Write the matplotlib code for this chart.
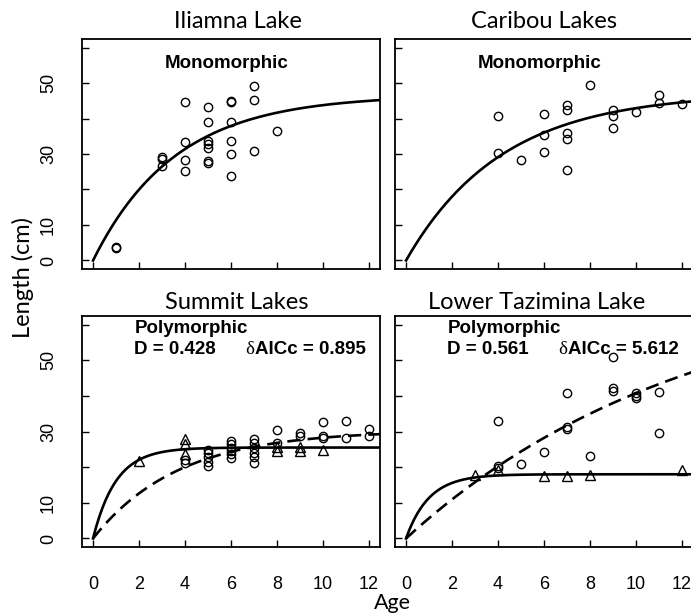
import numpy as np
import matplotlib
matplotlib.use("Agg")
import matplotlib.pyplot as plt

plt.rcParams['font.family'] = ['Liberation Sans', 'DejaVu Sans']

# Iliamna Lake (monomorphic)
iliamna_age = [1, 1, 3, 3, 3, 4, 4, 4, 4, 5, 5, 5, 5, 5, 5, 5, 6, 6, 6, 6, 6, 6, 7, 7, 7, 8]
iliamna_len = [3.5, 3.8, 28.6, 29.1, 26.5, 44.6, 33.3, 28.4, 25.3, 43.2, 38.9, 33.8, 32.8, 31.7,
               27.9, 27.5, 44.8, 44.6, 39.1, 33.6, 29.9, 23.7, 49.2, 45.1, 30.8, 36.6]

# Caribou Lakes (monomorphic)
caribou_age = [4, 4, 5, 6, 6, 6, 7, 7, 7, 7, 7, 8, 9, 9, 9, 10, 11, 11, 12]
caribou_len = [40.8, 30.4, 28.3, 41.2, 35.4, 30.7, 43.8, 42.4, 35.9, 34.2, 25.6, 49.5,
               42.4, 40.6, 37.2, 41.9, 46.6, 44.3, 44.2]

# Summit Lakes (polymorphic): circles and triangles
summit_c_age = [4, 4, 5, 5, 5, 5, 5, 6, 6, 6, 6, 6, 6, 7, 7, 7, 7, 7, 7,
                8, 8, 9, 9, 10, 10, 10, 11, 11, 12, 12]
summit_c_len = [21.9, 21.3, 24.8, 23.9, 22.8, 21.5, 20.3, 27.3, 26.4, 25.5, 24.5, 23.6, 22.7,
                27.8, 26.7, 25.5, 24.1, 22.8, 21.1, 30.3, 26.9, 29.5, 28.7, 32.8, 28.7, 28.1,
                33.0, 28.1, 30.6, 28.7]
summit_t_age = [2, 4, 4, 4, 8, 8, 9, 9, 10]
summit_t_len = [21.7, 27.8, 26.6, 23.6, 25.7, 24.5, 25.7, 24.5, 24.8]

# Lower Tazimina Lake (polymorphic)
tazimina_c_age = [4, 4, 4, 5, 6, 7, 7, 7, 8, 9, 9, 9, 10, 10, 10, 11, 11]
tazimina_c_len = [33.0, 20.3, 19.8, 21.0, 24.3, 40.8, 31.2, 30.7, 23.0, 50.9, 42.2, 41.5,
                  40.7, 39.9, 39.3, 41.0, 29.5]
tazimina_t_age = [3, 4, 6, 7, 8, 12]
tazimina_t_len = [17.7, 19.1, 17.5, 17.5, 17.9, 19.1]

# von Bertalanffy fits: (Linf, k)
iliamna_fit = (46.6, 0.28)
caribou_fit = (47.2, 0.24)
summit_fit_solid = (25.5, 1.0)
summit_fit_dash = (30.3, 0.27)
tazimina_fit_solid = (18.0, 1.0)
tazimina_fit_dash = (74.0, 0.08)

W, H = 691.0, 615.0
fig = plt.figure(figsize=(W / 100, H / 100), dpi=100)


def rect(x0, y0, x1, y1):
	return [x0 / W, 1 - y1 / H, (x1 - x0) / W, (y1 - y0) / H]


def vb(fit, t):
	linf, k = fit
	return linf * (1 - np.exp(-k * t))


def panel(r, left_labels, bottom_labels):
	ax = fig.add_axes(r)
	ax.set_xlim(-0.48, 12.48)
	ax.set_ylim(-2.4, 62.4)
	ax.set_xticks(range(0, 13, 2))
	ax.set_yticks(range(0, 61, 10))
	for s in ax.spines.values():
		s.set_linewidth(1.3)
	ax.tick_params(direction='in', length=5, width=1, labelsize=13)
	ax.tick_params(axis='x', pad=21)
	ax.tick_params(axis='y', pad=18)
	if left_labels:
		ax.set_yticklabels(['0', '10', '', '30', '', '50', ''], rotation=90, va='center')
	else:
		ax.set_yticklabels([])
	if not bottom_labels:
		ax.set_xticklabels([])
	return ax


t = np.linspace(0, 12.48, 300)
circ = dict(ls='none', marker='o', ms=6, mfc='none', mec='black', mew=1)
tri = dict(ls='none', marker='^', ms=7, mfc='none', mec='black', mew=1)
dash = dict(color='black', lw=1.9, dashes=(5, 2.7))

ax1 = panel(rect(82, 39, 380, 269), True, False)
ax1.plot(iliamna_age, iliamna_len, **circ)
ax1.plot(t, vb(iliamna_fit, t), color='black', lw=1.9)
ax1.text(5.8, 55.5, "Monomorphic", ha='center', va='center', fontsize=13.5, fontweight='bold')

ax2 = panel(rect(395, 39, 693, 269), False, False)
ax2.plot(caribou_age, caribou_len, **circ)
ax2.plot(t, vb(caribou_fit, t), color='black', lw=1.9)
ax2.text(5.8, 55.5, "Monomorphic", ha='center', va='center', fontsize=13.5, fontweight='bold')

ax3 = panel(rect(82, 316, 380, 547), True, True)
ax3.plot(summit_c_age, summit_c_len, **circ)
ax3.plot(summit_t_age, summit_t_len, **tri)
ax3.plot(t, vb(summit_fit_solid, t), color='black', lw=1.9)
ax3.plot(t, vb(summit_fit_dash, t), **dash)

ax4 = panel(rect(395, 316, 693, 547), False, True)
ax4.plot(tazimina_c_age, tazimina_c_len, **circ)
ax4.plot(tazimina_t_age, tazimina_t_len, **tri)
ax4.plot(t, vb(tazimina_fit_solid, t), color='black', lw=1.9)
ax4.plot(t, vb(tazimina_fit_dash, t), **dash)

for ax, d, aicc in [(ax3, "0.428", "0.895"), (ax4, "0.561", "5.612")]:
	ax.text(1.8, 59, "Polymorphic", ha='left', va='center', fontsize=13.5, fontweight='bold')
	ax.text(1.8, 53, "D = " + d, ha='left', va='center', fontsize=13.5, fontweight='bold')
	ax.text(6.6, 53, "\u03b4", ha='left', va='center', fontsize=13.5, family='Liberation Serif')
	ax.text(7.06, 53, "AICc = " + aicc, ha='left', va='center', fontsize=13.5, fontweight='bold')

tfont = dict(family='Lato', fontsize=17, ha='center', va='baseline')
fig.text(238 / W, 1 - 28 / H, "Iliamna Lake", **tfont)
fig.text(544 / W, 1 - 28 / H, "Caribou Lakes", **tfont)
fig.text(237 / W, 1 - 309 / H, "Summit Lakes", **tfont)
fig.text(537 / W, 1 - 309 / H, "Lower Tazimina Lake", **tfont)
fig.text(392 / W, 1 - 609 / H, "Age", family='Lato', fontsize=15.5, ha='center', va='baseline')
fig.text(23 / W, 1 - 278 / H, "Length (cm)", family='Lato', fontsize=17, ha='center', va='center', rotation=90)

fig.savefig("out.png", dpi=100)
